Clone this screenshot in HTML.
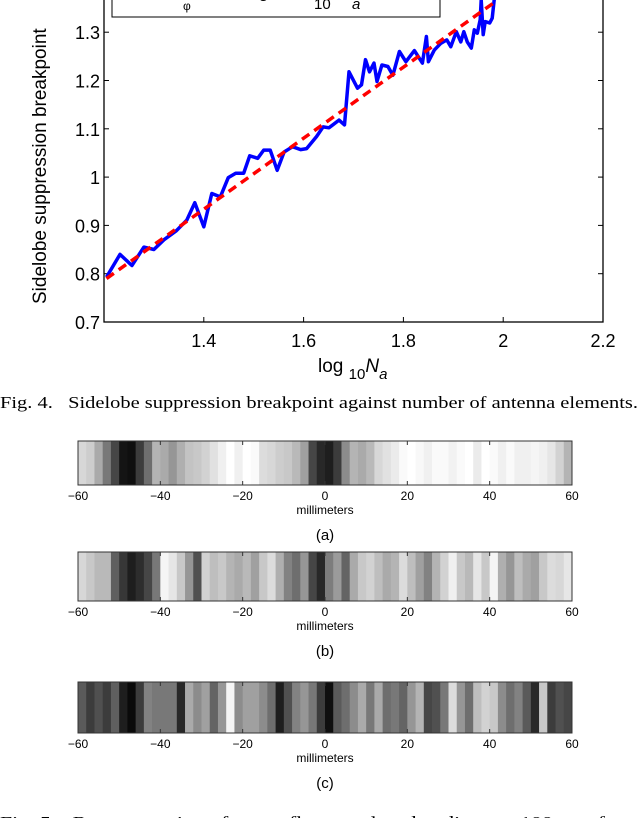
<!DOCTYPE html>
<html><head><meta charset="utf-8"><style>
body{margin:0;background:#fff;width:640px;height:818px;overflow:hidden}
svg{display:block}
.s{font-family:"Liberation Sans",sans-serif}
.r{font-family:"Liberation Serif",serif}
</style></head><body>
<svg id="svg" width="640" height="818" viewBox="0 0 640 818">
<g id="topchart"></g>
<g id="strips"></g>
<text class="r" x="0" y="408" font-size="17" textLength="638" lengthAdjust="spacingAndGlyphs">Fig. 4.&#160;&#160;&#160;Sidelobe suppression breakpoint against number of antenna elements.</text>
<text class="r" x="0" y="828" font-size="17" textLength="640" lengthAdjust="spacingAndGlyphs">Fig. 5.&#160;&#160;&#160;Reconstruction of two reflectors placed at distance 100 mm from</text>
</svg>
<script>
const xTicks=[1.4,1.6,1.8,2,2.2];
const xTickLabels=["1.4","1.6","1.8","2","2.2"];
const yTicks=[0.7,0.8,0.9,1,1.1,1.2,1.3,1.4];
const yTickLabels=["0.7","0.8","0.9","1","1.1","1.2","1.3","1.4"];
const logN=[1.205,1.232,1.256,1.28,1.30,1.321,1.345,1.366,1.382,1.40,1.416,1.433,1.449,1.464,1.48,1.492,1.508,1.52,1.533,1.547,1.561,1.578,1.594,1.606,1.626,1.639,1.651,1.671,1.682,1.691,1.708,1.716,1.724,1.732,1.741,1.747,1.757,1.769,1.779,1.792,1.805,1.822,1.838,1.846,1.85,1.862,1.875,1.887,1.895,1.906,1.915,1.921,1.928,1.936,1.942,1.948,1.954,1.956,1.960,1.964,1.973,1.978,1.982,1.99];
const breakpoint=[0.793,0.840,0.817,0.855,0.85,0.871,0.889,0.911,0.947,0.897,0.966,0.959,0.999,1.008,1.008,1.044,1.039,1.056,1.056,1.014,1.052,1.063,1.057,1.059,1.084,1.104,1.102,1.118,1.108,1.218,1.184,1.191,1.243,1.218,1.236,1.198,1.232,1.229,1.211,1.26,1.239,1.262,1.236,1.291,1.239,1.263,1.277,1.284,1.270,1.301,1.28,1.301,1.28,1.267,1.305,1.298,1.326,1.367,1.295,1.322,1.319,1.329,1.367,1.45];
const fitX=[1.205,1.98];
const fitY=[0.79,1.36];
const stripA=[215,205,170,120,70,20,15,60,110,180,170,150,175,195,200,210,225,240,255,240,255,250,220,215,205,200,185,160,70,40,30,60,140,180,170,185,215,225,235,250,255,248,240,250,250,242,250,255,235,255,250,240,250,240,240,245,240,230,210,180];
const stripB=[215,200,185,185,95,55,30,45,70,120,245,230,200,150,80,210,190,200,180,170,185,160,200,220,175,130,110,150,70,40,125,155,100,170,200,210,190,170,180,220,190,160,130,180,210,240,200,185,230,200,245,175,150,190,170,160,200,220,215,230];
const stripC=[90,60,80,60,95,30,10,60,130,120,120,120,40,170,140,160,100,150,245,140,160,160,140,110,30,80,130,150,120,60,15,90,110,140,170,120,170,110,120,100,150,180,70,80,120,220,150,110,190,210,200,140,110,130,90,40,200,60,80,70];
const mmTicks=[-60,-40,-20,0,20,40,60];
const mmLabels=["\u221260","\u221240","\u221220","0","20","40","60"];
(function(){
const NS="http://www.w3.org/2000/svg";
const X0=104,X1=603,xmin=1.2,xmax=2.2,Y0=322,ymin=0.7,ppu=483;
const sx=v=>X0+(v-xmin)/(xmax-xmin)*(X1-X0);
const sy=v=>Y0-(v-ymin)*ppu;
function mk(tag,attrs,parent,txt){const e=document.createElementNS(NS,tag);for(const k in attrs)e.setAttribute(k,attrs[k]);if(txt!==undefined)e.textContent=txt;parent.appendChild(e);return e;}
const topG=document.getElementById('topchart');
let e;
e=mk('rect',{x:X0,y:sy(1.5),width:X1-X0,height:Y0-sy(1.5),fill:'none',stroke:'#000','stroke-width':1.3},topG);


xTicks.forEach((t,i)=>{const x=sx(t);
 mk('line',{x1:x,x2:x,y1:Y0,y2:Y0-5,stroke:'#000'},topG);
 e=mk('text',{x:x,y:347,'font-size':18,'text-anchor':'middle',class:'s'},topG,xTickLabels[i]);
 
 });
yTicks.forEach((t,i)=>{const y=sy(t);
 mk('line',{x1:X0,x2:X0+5,y1:y,y2:y,stroke:'#000'},topG);
 mk('line',{x1:X1,x2:X1-5,y1:y,y2:y,stroke:'#000'},topG);
 e=mk('text',{x:100,y:y+7,'font-size':18,'text-anchor':'end',class:'s'},topG,yTickLabels[i]);
 
 });
e=mk('text',{transform:'translate(46,304) rotate(-90)','font-size':19,class:'s'},topG,'Sidelobe suppression breakpoint');


e=mk('text',{x:318,y:372,'font-size':19,class:'s'},topG,'');
e.innerHTML='log <tspan font-size="15" dy="7">10</tspan><tspan dy="-7" font-style="italic">N</tspan><tspan font-size="15" dy="7" font-style="italic">a</tspan>';


const path=logN.map((v,i)=>(i?'L':'M')+sx(v).toFixed(1)+','+sy(breakpoint[i]).toFixed(1)).join('');
e=mk('path',{d:path,fill:'none',stroke:'#0000ff','stroke-width':3.5,'stroke-linejoin':'round'},topG);


e=mk('line',{x1:sx(fitX[0]),y1:sy(fitY[0]),x2:sx(fitX[1]),y2:sy(fitY[1]),stroke:'#ff0000','stroke-width':3.5,'stroke-dasharray':'9,6'},topG);


const lg=mk('g',{},topG);


mk('rect',{x:112,y:-20,width:328,height:37,fill:'#fff',stroke:'#000'},lg);
mk('text',{x:183,y:10,'font-size':12,class:'s'},lg,'φ');
mk('text',{x:314,y:9,'font-size':15,class:'s'},lg,'10');
mk('text',{x:352,y:9,'font-size':15,'font-style':'italic',class:'s'},lg,'a');
mk('text',{x:170,y:-3,'font-size':18,class:'s'},lg,'Θ        = 0.74 log      N   − 0.10');

const S=document.getElementById('strips');
const L=78,R=572;
const mx=v=>L+(v+60)/120*(R-L);
function strip(vals,t,b,lab,name){
 const g=mk('g',{},S);
 
 
 const w=120/vals.length;
 vals.forEach((v,i)=>{const x0=mx(-60+i*w),x1=mx(-60+(i+1)*w);
  e=mk('rect',{x:x0,y:t,width:x1-x0+0.5,height:b-t,fill:`rgb(${v},${v},${v})`},g);
  
  });
 mk('rect',{x:L,y:t,width:R-L,height:b-t,fill:'none',stroke:'#333','stroke-width':1},g);
 mmTicks.forEach((m,i)=>{const x=mx(m);
  mk('line',{x1:x,x2:x,y1:t,y2:t+4,stroke:'#333'},g);
  mk('line',{x1:x,x2:x,y1:b,y2:b-4,stroke:'#333'},g);
  e=mk('text',{x:x,y:b+15,'font-size':12,'text-anchor':'middle',class:'s'},g,mmLabels[i]);
  
  });
 e=mk('text',{x:mx(0),y:b+29,'font-size':12,'text-anchor':'middle',class:'s'},g,'millimeters');
 
 
 e=mk('text',{x:mx(0),y:b+55,'font-size':15,'text-anchor':'middle',class:'s'},g,lab);
 
 
}
strip(stripA,441,485,'(a)','strip-a');
strip(stripB,552,601,'(b)','strip-b');
strip(stripC,682,733,'(c)','strip-c');
})();
</script>
</body></html>
